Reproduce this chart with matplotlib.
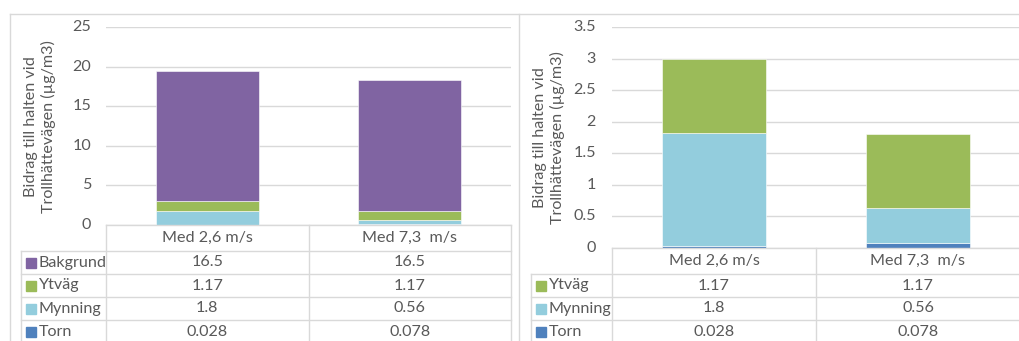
import matplotlib.pyplot as plt
from matplotlib.lines import Line2D
from matplotlib.patches import Rectangle

plt.rcParams['font.family'] = ['Lato', 'DejaVu Sans']

categories = ['Med 2,6 m/s', 'Med 7,3  m/s']
torn = [0.028, 0.078]
mynning = [1.8, 0.56]
ytvag = [1.17, 1.17]
bakgrund = [16.5, 16.5]

left_ticks = [0, 5, 10, 15, 20, 25]
right_ticks = [0, 0.5, 1, 1.5, 2, 2.5, 3, 3.5]

colors = {
    'Torn': '#4F81BD',
    'Mynning': '#93CDDD',
    'Ytväg': '#9BBB59',
    'Bakgrund': '#8064A2',
}
TXT = '#595959'
GRID = '#D9D9D9'
FS = 11.6
ylabel = 'Bidrag till halten vid\nTrollhättevägen (µg/m3)'

W, H = 1019, 341
fig = plt.figure(figsize=(W / 100, H / 100), dpi=100)


def fx(x):
    return x / W


def fy(y):
    return 1 - y / H


def hline(x0, x1, y):
    fig.add_artist(Line2D([fx(x0), fx(x1)], [fy(y), fy(y)], color=GRID, lw=1))


def vline(x, y0, y1):
    fig.add_artist(Line2D([fx(x), fx(x)], [fy(y0), fy(y1)], color=GRID, lw=1))


def panel(x0, x1, ytop, ybot, ymax, ticks, series, label_x, label_y, tick_x, tab_x0):
    ax = fig.add_axes([fx(x0), fy(ybot), fx(x1) - fx(x0), fy(ytop) - fy(ybot)])
    bottom = [0.0] * len(categories)
    for name, vals in series:
        ax.bar(range(len(categories)), vals, 0.51, bottom=bottom,
               color=colors[name], edgecolor='white', linewidth=0.4)
        bottom = [b + v for b, v in zip(bottom, vals)]
    ax.set_xlim(-0.5, len(categories) - 0.5)
    ax.set_ylim(0, ymax)
    ax.set_yticks(ticks)
    ax.set_yticklabels([])
    ax.set_xticks([])
    ax.grid(axis='y', color=GRID, lw=1)
    ax.set_axisbelow(True)
    for s in ax.spines.values():
        s.set_visible(False)
    ax.tick_params(length=0)
    for t in ticks:
        yy = ybot - (ybot - ytop) * t / ymax
        fig.text(fx(tick_x), fy(yy), f'{t:g}', ha='right', va='center',
                 fontsize=FS, color=TXT)
    fig.text(fx(label_x), fy(label_y), ylabel, rotation=90, ha='center',
             va='center', fontsize=FS, color=TXT, linespacing=1.2)

    # data table under the plot
    colw = (x1 - x0) / len(categories)
    rows = list(reversed(series))
    ys = [ybot, ybot + 26] + [ybot + 26 + 23 * (i + 1) for i in range(len(rows))]
    hline(x0, x1, ybot)
    hline(tab_x0, x1, ys[1])
    for y in ys[2:]:
        hline(tab_x0, x1, y)
    for i in range(len(categories) + 1):
        vline(x0 + colw * i, ybot, H)
    vline(tab_x0, ys[1], H)
    for i, c in enumerate(categories):
        fig.text(fx(x0 + colw * (i + 0.5)), fy(ybot + 13), c, ha='center',
                 va='center', fontsize=FS, color=TXT)
    for r, (name, vals) in enumerate(rows):
        yc = (ys[r + 1] + ys[r + 2]) / 2
        fig.add_artist(Rectangle((fx(tab_x0 + 5), fy(yc + 5)), fx(10), 10 / H,
                                 color=colors[name]))
        fig.text(fx(tab_x0 + 18), fy(yc), name, ha='left', va='center',
                 fontsize=FS, color=TXT)
        for i, v in enumerate(vals):
            fig.text(fx(x0 + colw * (i + 0.5)), fy(yc), f'{v:g}', ha='center',
                     va='center', fontsize=FS, color=TXT)
    return ax


panel(106, 511, 27, 225, 25, left_ticks,
      [('Torn', torn), ('Mynning', mynning), ('Ytväg', ytvag), ('Bakgrund', bakgrund)],
      40, 127, 91, 21)
panel(612, 1020, 27, 248, 3.5, right_ticks,
      [('Torn', torn), ('Mynning', mynning), ('Ytväg', ytvag)],
      549, 138, 596, 531)

# chart area borders
hline(9.5, W, 14)
vline(9.5, 14, H)
vline(519, 14, H)

fig.savefig('out.png', dpi=100)
